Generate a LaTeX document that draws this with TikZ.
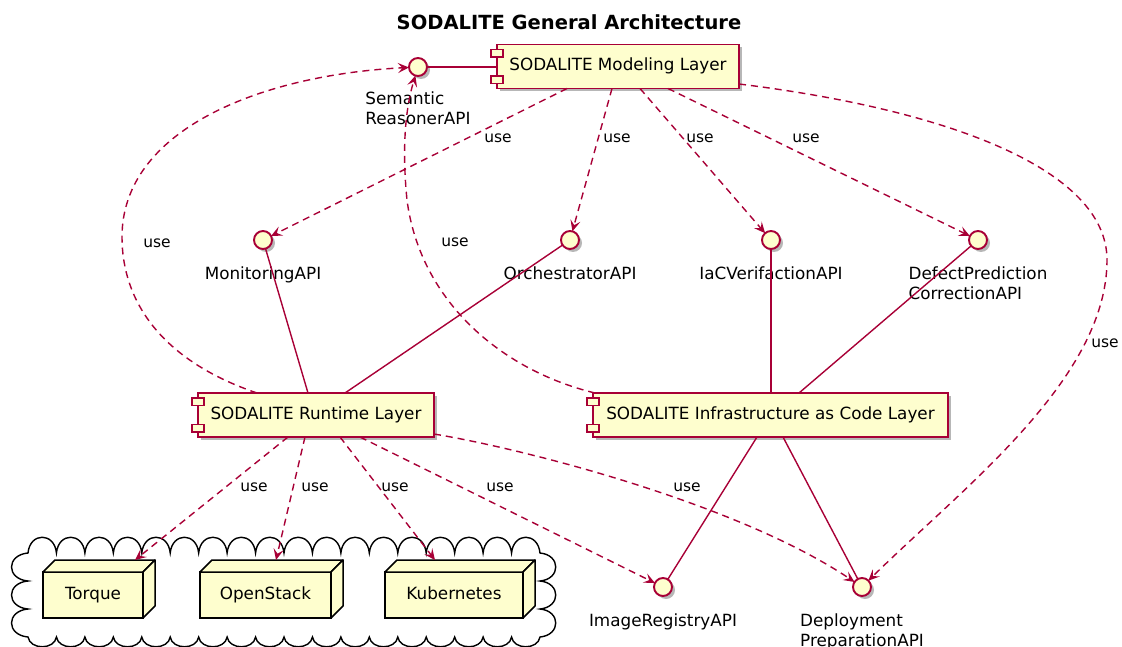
\documentclass[tikz,border=0pt]{standalone}
\usepackage{fontspec}
\setmainfont{DejaVu Sans}
\usetikzlibrary{arrows.meta,shadows,calc}
\definecolor{umlred}{HTML}{A80036}
\definecolor{umlfill}{HTML}{FEFECE}

\begin{document}
\begin{tikzpicture}[x=1pt,y=-1pt,
  every node/.style={inner sep=0pt, outer sep=0pt, font=\fontsize{16.8}{19.5}\selectfont, text=black},
  shadowed/.style={drop shadow={shadow xshift=3pt, shadow yshift=-3pt, opacity=0.4, fill=black!70}},
  comp/.style={draw=umlred, fill=umlfill, line width=1.8pt, shadowed, minimum height=44pt,
    text height=12.5pt, text depth=3.5pt},
  iface/.style={circle, draw=umlred, fill=umlfill, line width=1.9pt, minimum size=18pt, shadowed},
  ilabel/.style={align=left, anchor=north},
  usearrow/.style={draw=umlred, line width=1.4pt, dash pattern=on 7pt off 5pt,
    -{Stealth[length=11pt,width=10pt,inset=4.5pt]}},
  link/.style={draw=umlred, line width=1.4pt},
  uselbl/.style={font=\fontsize{15.5}{18}\selectfont},
  boxfront/.style={draw=black, fill=umlfill, line width=1.5pt, minimum height=46pt,
    text height=12.5pt, text depth=3.5pt},
  boxside/.style={draw=black, fill=umlfill, line width=1.5pt, line join=round},
  cloudline/.style={draw=black, fill=white, line width=1.4pt, line join=miter},
  plug/.style={draw=umlred, fill=umlfill, line width=1.3pt},
]
\useasboundingbox (0,0) rectangle (1122,647);

% title
\node[font=\bfseries\fontsize{19.5}{22}\selectfont] (title) at (569,22) {SODALITE General Architecture};

% cloud around the execution platforms
\def\cw{28.444}
\draw[cloudline] (28,553)
  \foreach \i in {0,...,17} { .. controls ({28+\i*\cw+2},532) and ({28+(\i+1)*\cw-2},532) .. ({28+(\i+1)*\cw},553) }
  \foreach \j in {0,1,2} { .. controls (561,{553+\j*28+2}) and (561,{553+(\j+1)*28-2}) .. (540,{553+(\j+1)*28}) }
  \foreach \i in {0,...,17} { .. controls ({540-\i*\cw-2},650) and ({540-(\i+1)*\cw+2},650) .. ({540-(\i+1)*\cw},637) }
  \foreach \j in {0,1,2} { .. controls (6,{637-\j*28-2}) and (6,{637-(\j+1)*28+2}) .. (28,{637-(\j+1)*28}) }
  -- cycle;

% platform nodes (3D boxes)
\node[boxfront, minimum width=100pt] (torque) at (93,595) {Torque};
\node[boxfront, minimum width=131pt] (openstack) at (265.5,595) {OpenStack};
\node[boxfront, minimum width=138pt] (kube) at (454,595) {Kubernetes};
\foreach \b in {torque,openstack,kube} {
  \draw[boxside] (\b.north west) -- ++(12,-12) -- ($(\b.north east)+(12,-12)$) -- (\b.north east) -- cycle;
  \draw[boxside] (\b.north east) -- ++(12,-12) -- ($(\b.south east)+(12,-12)$) -- (\b.south east) -- cycle;
}

% components
\node[comp, minimum width=242pt] (ml) at (618,66.5) {SODALITE Modeling Layer};
\node[comp, minimum width=236pt] (rt) at (316,415) {SODALITE Runtime Layer};
\node[comp, minimum width=355pt] (iac) at (770.5,415) {SODALITE Infrastructure as Code Layer};
\foreach \c in {ml,rt,iac} {
  \draw[plug] ($(\c.north west)+(-6,5)$) rectangle ++(12,7.5);
  \draw[plug] ($(\c.south west)+(-6,-12.5)$) rectangle ++(12,7.5);
}

% interfaces
\node[iface] (sem) at (418,67) {};
\node[iface] (mon) at (263,240) {};
\node[iface] (orch) at (570,240) {};
\node[iface] (iacv) at (771,240) {};
\node[iface] (defect) at (978,240) {};
\node[iface] (imgreg) at (663,587) {};
\node[iface] (deploy) at (862,587) {};

% interface names
\node[ilabel] (semL) at (418,92) {Semantic\\ReasonerAPI};
\node[ilabel] (monL) at (263,267) {MonitoringAPI};
\node[ilabel] (orchL) at (570,267) {OrchestratorAPI};
\node[ilabel] (iacvL) at (771,267) {IaCVerifactionAPI};
\node[ilabel] (defectL) at (978,267) {DefectPrediction\\CorrectionAPI};
\node[ilabel] (imgregL) at (663,614) {ImageRegistryAPI};
\node[ilabel] (deployL) at (862,614) {Deployment\\PreparationAPI};

% provided interfaces
\draw[link] (sem) -- (ml.west |- sem);
\draw[link] (mon) -- ($(rt.north)+(-8,0)$);
\draw[link] (orch) -- ($(rt.north)+(29,0)$);
\draw[link] (iacv) -- (iacv |- iac.north);
\draw[link] (defect) -- ($(iac.north)+(28.5,0)$);
\draw[link] ($(iac.south)+(-13.5,0)$) -- (imgreg);
\draw[link] ($(iac.south)+(12.5,0)$) -- (deploy);

% usage dependencies
\draw[usearrow] ($(ml.south)+(-51,0)$) -- (mon);
\draw[usearrow] ($(ml.south)+(-6,0)$) -- (orch);
\draw[usearrow] ($(ml.south)+(22,0)$) -- (iacv);
\draw[usearrow] ($(ml.south)+(50,0)$) -- (defect);
\draw[usearrow] ($(ml.east)+(0,17.5)$) .. controls (950,110) and (1107,170) .. (1107,260)
  .. controls (1107,380) and (960,490) .. (deploy);
\draw[usearrow] ($(rt.north)+(-59,0)$) .. controls (160,360) and (122,300) .. (122,237)
  .. controls (122,130) and (260,75) .. (sem);
\draw[usearrow] ($(iac.north)+(-175.5,0)$) .. controls (500,370) and (420,300) .. (407,200)
  .. controls (402,150) and (405,110) .. (sem);
\draw[usearrow] ($(rt.south)+(-28,0)$) -- ($(torque.north east)+(-8,-12)$);
\draw[usearrow] ($(rt.south)+(-11,0)$) -- ($(openstack.north)+(10.5,-12)$);
\draw[usearrow] ($(rt.south)+(24,0)$) -- ($(kube.north)+(-19,-12)$);
\draw[usearrow] ($(rt.south)+(44,0)$) -- (imgreg);
\draw[usearrow] ($(rt.east)+(0,19)$) .. controls (530,450) and (740,505) .. (deploy);

% dependency labels
\node[uselbl] (u1) at (498,138) {use};
\node[uselbl] (u2) at (617,138) {use};
\node[uselbl] (u3) at (700,138) {use};
\node[uselbl] (u4) at (806,138) {use};
\node[uselbl] (u5) at (1105,343) {use};
\node[uselbl] (u6) at (157,243) {use};
\node[uselbl] (u7) at (455,242) {use};
\node[uselbl] (u8) at (254,487) {use};
\node[uselbl] (u9) at (315,487) {use};
\node[uselbl] (u10) at (395,487) {use};
\node[uselbl] (u11) at (500,487) {use};
\node[uselbl] (u12) at (687,487) {use};
\end{tikzpicture}
\end{document}
